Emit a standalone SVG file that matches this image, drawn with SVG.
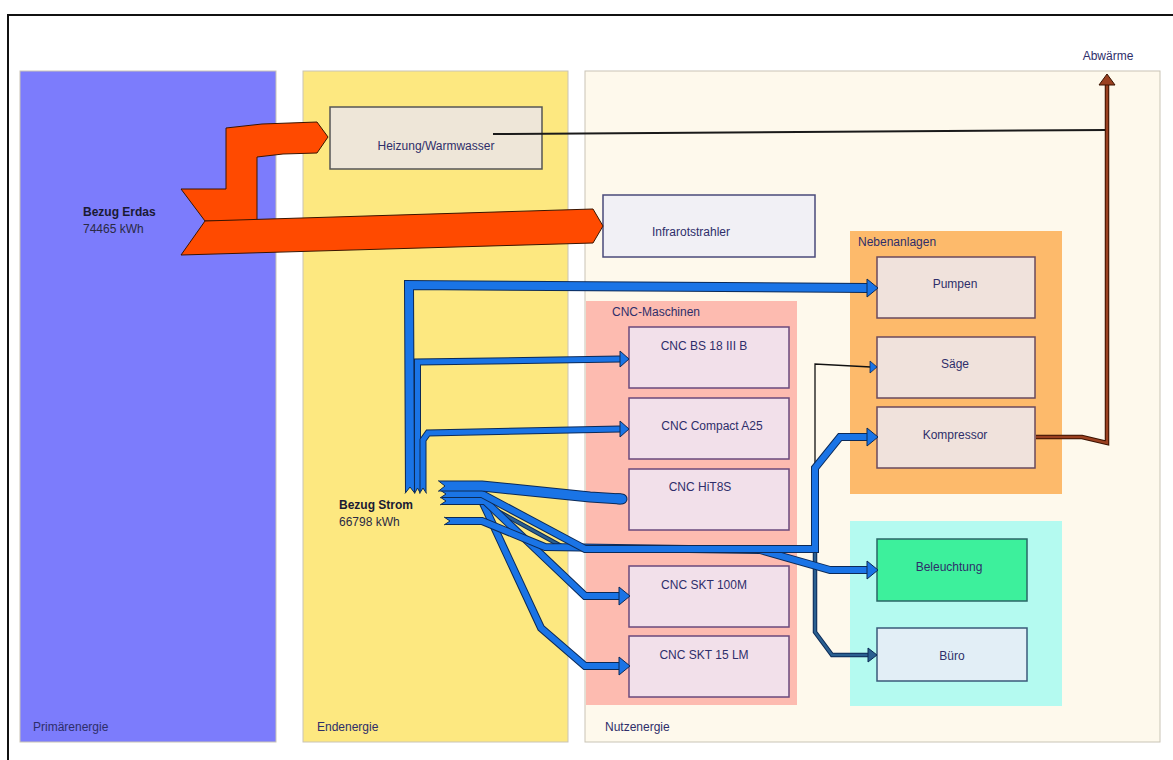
<svg xmlns="http://www.w3.org/2000/svg" width="1173" height="760" viewBox="0 0 1173 760">
<style>
text{font-family:"Liberation Sans",Arial,sans-serif;font-size:12px;fill:#2e2e6a}
.mid{text-anchor:middle}
.bold{font-weight:bold;fill:#1a1a33}
.val{fill:#2a2a44}
.panel{stroke:#c9c4b6;stroke-width:1}
.cnc{fill:#f2e0ea;stroke:#6a4a7c;stroke-width:1.5}
.neb{fill:#f0e2dc;stroke:#6a4a5e;stroke-width:1.5}
.bo{fill:none;stroke:#0c2a57;stroke-linejoin:miter}
.bi{fill:none;stroke:#1a74e6;stroke-linejoin:miter}
.rnd{stroke-linecap:round}
.head{fill:#1a74e6;stroke:#0c2a57;stroke-width:1}
.notch{fill:#fde880;stroke:#0c2a57;stroke-width:1}
.gas{fill:#ff4a00;stroke:#3a1500;stroke-width:1}
</style>

<!-- sheet frame -->
<rect x="0" y="0" width="1173" height="760" fill="#ffffff"/>
<rect x="8" y="15" width="1200" height="800" fill="#ffffff" stroke="#111111" stroke-width="2"/>

<!-- energy stages -->
<g id="primaerenergie">
  <rect class="panel" x="20" y="71" width="256" height="671" fill="#7c7cfc"/>
  <text x="33" y="731">Primärenergie</text>
</g>
<g id="endenergie">
  <rect class="panel" x="303" y="71" width="265" height="671" fill="#fde880"/>
  <text x="317" y="731">Endenergie</text>
</g>
<g id="nutzenergie">
  <rect class="panel" x="585" y="71" width="575" height="671" fill="#fef9ec"/>
  <text x="605" y="731">Nutzenergie</text>
</g>

<!-- groups -->
<g id="cnc-maschinen">
  <rect x="586" y="301" width="211" height="404" fill="#fdbbb0"/>
  <text x="612" y="316">CNC-Maschinen</text>
</g>
<g id="nebenanlagen">
  <rect x="850" y="231" width="212" height="263" fill="#fdba6b"/>
  <text x="858" y="246">Nebenanlagen</text>
</g>
<g id="licht-buero">
  <rect x="850" y="521" width="212" height="185" fill="#b4faf0"/>
</g>

<!-- nodes -->
<g id="heizung">
  <rect x="330" y="107" width="212" height="62" fill="#eee6d8" stroke="#555555" stroke-width="1.5"/>
  <text class="mid" x="436" y="150">Heizung/Warmwasser</text>
</g>
<g id="infrarotstrahler">
  <rect x="603" y="195" width="212" height="62" fill="#f1f0f5" stroke="#4a4a7a" stroke-width="1.5"/>
  <text class="mid" x="691" y="236">Infrarotstrahler</text>
</g>
<g id="pumpen">
  <rect class="neb" x="877" y="257" width="158" height="61"/>
  <text class="mid" x="955" y="288">Pumpen</text>
</g>
<g id="saege">
  <rect class="neb" x="877" y="337" width="158" height="61"/>
  <text class="mid" x="955" y="368">Säge</text>
</g>
<g id="kompressor">
  <rect class="neb" x="877" y="407" width="158" height="61"/>
  <text class="mid" x="955" y="439">Kompressor</text>
</g>
<g id="cnc-bs18">
  <rect class="cnc" x="629" y="327" width="160" height="61"/>
  <text class="mid" x="704" y="350">CNC BS 18 III B</text>
</g>
<g id="cnc-compact">
  <rect class="cnc" x="629" y="398" width="160" height="61"/>
  <text class="mid" x="712" y="430">CNC Compact A25</text>
</g>
<g id="cnc-hit8s">
  <rect class="cnc" x="629" y="469" width="160" height="61"/>
  <text class="mid" x="700" y="491">CNC HiT8S</text>
</g>
<g id="cnc-skt100m">
  <rect class="cnc" x="629" y="566" width="160" height="61"/>
  <text class="mid" x="704" y="589">CNC SKT 100M</text>
</g>
<g id="cnc-skt15lm">
  <rect class="cnc" x="629" y="636" width="160" height="61"/>
  <text class="mid" x="704" y="659">CNC SKT 15 LM</text>
</g>
<g id="beleuchtung">
  <rect x="877" y="539" width="150" height="62" fill="#3df09c" stroke="#2a6666" stroke-width="1.5"/>
  <text class="mid" x="949" y="571">Beleuchtung</text>
</g>
<g id="buero">
  <rect x="877" y="628" width="150" height="53" fill="#e2eef6" stroke="#3a5a7a" stroke-width="1.5"/>
  <text class="mid" x="952" y="660">Büro</text>
</g>

<!-- sources and sink -->
<g id="bezug-erdgas">
  <text class="bold" x="83" y="216">Bezug Erdas</text>
  <text class="val" x="83" y="233">74465 kWh</text>
</g>
<g id="bezug-strom">
  <text class="bold" x="339" y="509">Bezug Strom</text>
  <text class="val" x="339" y="526">66798 kWh</text>
</g>
<g id="abwaerme">
  <text class="mid" x="1108" y="60">Abwärme</text>
</g>

<!-- connectors -->
<g id="connectors">
  <!-- natural gas flows -->
  <polygon class="gas" points="181,189 226,189 226,128 262,124 317,122 328,137 317,153 283,154 257,157 257,221 205,221"/>
  <polygon class="gas" points="205,221 593,209 603,226 593,243 181,255"/>

  <!-- waste heat -->
  <path d="M493 134 L1107 130" fill="none" stroke="#1a1a1a" stroke-width="2"/>
  <path d="M1036 437 L1082 437 L1107 443 L1107 84" fill="none" stroke="#3a1200" stroke-width="4.5" stroke-linejoin="miter"/>
  <path d="M1036 437 L1082 437 L1107 443 L1107 84" fill="none" stroke="#9a4020" stroke-width="2.5" stroke-linejoin="miter"/>
  <polygon points="1099,85 1107,74 1115,85" fill="#9a4020" stroke="#3a1200" stroke-width="1"/>

  <!-- thin feeders -->
  <path d="M483 502 L563 546 L815 549 L815 364 L871 367" fill="none" stroke="#111111" stroke-width="1.3"/>
  <polygon points="870,361 877,367 870,373" fill="#1a74e6" stroke="#0c2a57" stroke-width="0.8"/>
  <path d="M483 503 L563 547 L815 550 L815 632 L832 655 L869 655" fill="none" stroke="#0c2a57" stroke-width="4.5"/>
  <path d="M483 503 L563 547 L815 550 L815 632 L832 655 L869 655" fill="none" stroke="#2a5f90" stroke-width="2.5"/>
  <polygon points="868,648 877,655 868,662" fill="#2a5f90" stroke="#0c2a57" stroke-width="1"/>

  <!-- Pumpen -->
  <path class="bo" stroke-width="10" d="M410 493 L409 285 L868 288"/>
  <path class="bi" stroke-width="8" d="M410 493 L409 285 L868 288"/>
  <polygon class="head" points="867,279 878,288 867,297"/>
  <polyline class="notch" points="405,493.5 410,487 415,493.5"/>

  <!-- CNC BS 18 III B -->
  <path class="bo" stroke-width="7" d="M417.5 493 L417.5 362 L620 359"/>
  <path class="bi" stroke-width="5" d="M417.5 493 L417.5 362 L620 359"/>
  <polygon class="head" points="620,351 629,359 620,367"/>
  <polyline class="notch" points="414.5,493.5 417.5,488 420.5,493.5"/>

  <!-- CNC Compact A25 -->
  <path class="bo" stroke-width="7" d="M423 493 L423 440 L428 433 L620 429"/>
  <path class="bi" stroke-width="5" d="M423 493 L423 440 L428 433 L620 429"/>
  <polygon class="head" points="620,421 629,429 620,437"/>
  <polyline class="notch" points="419.5,493.5 423,488 426.5,493.5"/>

  <!-- CNC SKT 15 LM -->
  <path class="bo" stroke-width="8" d="M441 501 L482 501 L541 628 L585 666 L620 666"/>
  <path class="bi" stroke-width="6" d="M441 501 L482 501 L541 628 L585 666 L620 666"/>
  <polygon class="head" points="619,657 630,666 619,675"/>

  <!-- CNC SKT 100M -->
  <path class="bo" stroke-width="8" d="M441 501 L485 501 L585 596 L620 596"/>
  <path class="bi" stroke-width="6" d="M441 501 L485 501 L585 596 L620 596"/>
  <polygon class="head" points="619,587 630,596 619,605"/>
  <polyline class="notch" points="440,497 446,501 440,505"/>

  <!-- Beleuchtung -->
  <path class="bo" stroke-width="8" d="M445 521 L482 521 L545 547 L760 550 L830 570 L868 570"/>
  <path class="bi" stroke-width="6" d="M445 521 L482 521 L545 547 L760 550 L830 570 L868 570"/>
  <polygon class="head" points="867,561 878,570 867,579"/>
  <polyline class="notch" points="444,517 450,521 444,525"/>

  <!-- Kompressor -->
  <path class="bo" stroke-width="8" d="M441 494 L482 494 L585 549 L815 549 L815 468 L840 437 L868 437"/>
  <path class="bi" stroke-width="6" d="M441 494 L482 494 L585 549 L815 549 L815 468 L840 437 L868 437"/>
  <polygon class="head" points="867,428 878,437 867,446"/>
  <polyline class="notch" points="440,490 446,494 440,498"/>

  <!-- CNC HiT8S -->
  <path class="bo" stroke-width="11" d="M439 486 L482 486 L590 497 L621 499"/>
  <path class="bo rnd" stroke-width="11" d="M618 498.8 L622 499"/>
  <path class="bi" stroke-width="9" d="M439 486 L482 486 L590 497 L621 499"/>
  <path class="bi rnd" stroke-width="9" d="M618 498.8 L622 499"/>
  <polyline class="notch" points="438,480.5 445,486 438,491.5"/>
</g>
</svg>
